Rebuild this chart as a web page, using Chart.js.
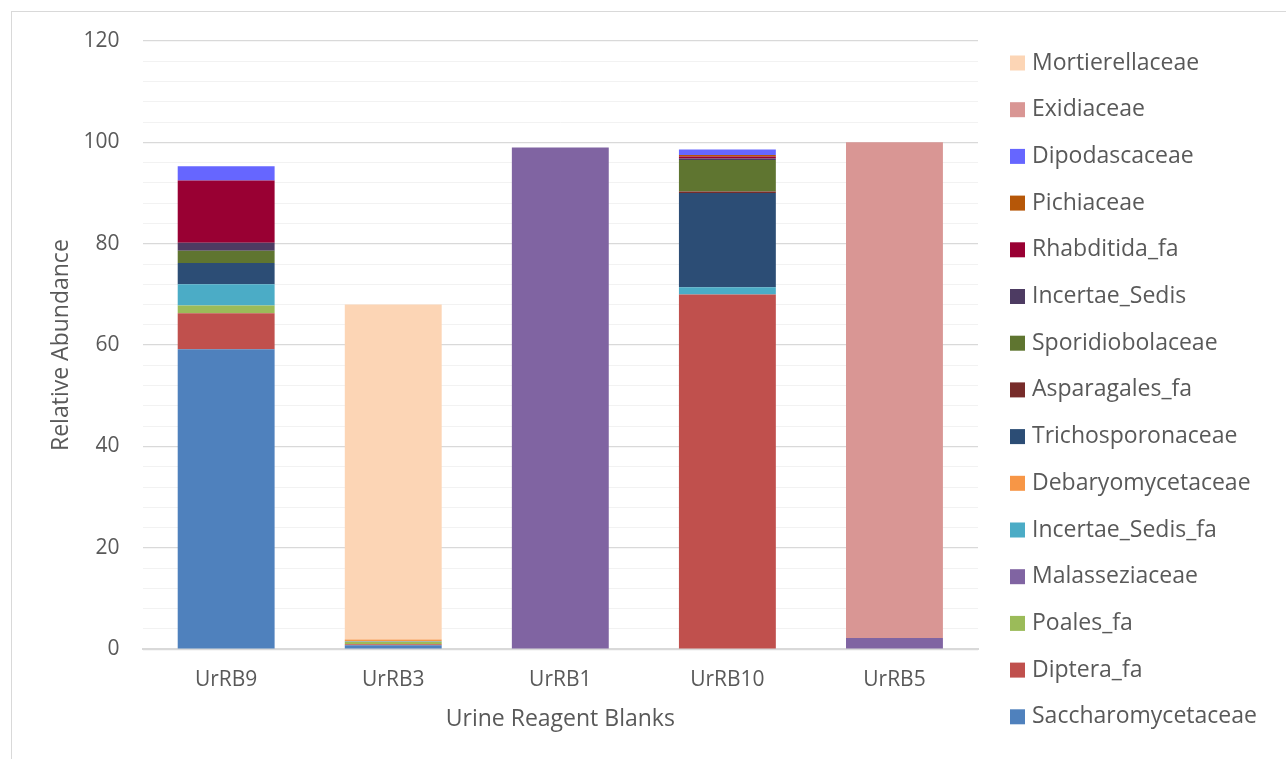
<!DOCTYPE html>
<html>
<head>
<meta charset="utf-8">
<script src="https://cdn.jsdelivr.net/npm/chart.js@4/dist/chart.umd.min.js"></script>
<style>
  html, body { margin: 0; padding: 0; background: #ffffff; overflow: hidden; }
  #frame { position: absolute; left: 11px; top: 11px; width: 1400px; height: 900px; border: 1px solid #d9d9d9; box-sizing: border-box; }
  #wrap { position: absolute; left: 0; top: 0; width: 1286px; height: 759px; }
</style>
</head>
<body>
<div id="frame"></div>
<div id="wrap"><canvas id="c" width="1286" height="759"></canvas></div>
<script>
const categories = ['UrRB9', 'UrRB3', 'UrRB1', 'UrRB10', 'UrRB5'];
const saccharomycetaceae = [59.2, 0.8, 0, 0, 0];
const dipteraFa          = [7.1, 0.2, 0, 70.0, 0];
const poalesFa           = [1.5, 0.4, 0, 0, 0];
const malasseziaceae     = [0, 0, 99.0, 0, 2.2];
const incertaeSedisFa    = [4.2, 0.1, 0, 1.4, 0];
const debaryomycetaceae  = [0, 0.4, 0, 0, 0];
const trichosporonaceae  = [4.2, 0, 0, 18.6, 0];
const asparagalesFa      = [0, 0, 0, 0.3, 0];
const sporidiobolaceae   = [2.4, 0, 0, 6.2, 0];
const incertaeSedis      = [1.6, 0, 0, 0.3, 0];
const rhabditidaFa       = [12.3, 0, 0, 0.4, 0];
const pichiaceae         = [0, 0, 0, 0.3, 0];
const dipodascaceae      = [2.8, 0, 0, 1.1, 0];
const exidiaceae         = [0, 0, 0, 0, 97.8];
const mortierellaceae    = [0, 66.1, 0, 0, 0];

const yTickLabels = [0, 20, 40, 60, 80, 100, 120];

const series = [
  ['Saccharomycetaceae', saccharomycetaceae, '#4F81BD'],
  ['Diptera_fa', dipteraFa, '#C0504D'],
  ['Poales_fa', poalesFa, '#9BBB59'],
  ['Malasseziaceae', malasseziaceae, '#8064A2'],
  ['Incertae_Sedis_fa', incertaeSedisFa, '#4BACC6'],
  ['Debaryomycetaceae', debaryomycetaceae, '#F79646'],
  ['Trichosporonaceae', trichosporonaceae, '#2C4D75'],
  ['Asparagales_fa', asparagalesFa, '#772C2A'],
  ['Sporidiobolaceae', sporidiobolaceae, '#5F7530'],
  ['Incertae_Sedis', incertaeSedis, '#4D3B62'],
  ['Rhabditida_fa', rhabditidaFa, '#990033'],
  ['Pichiaceae', pichiaceae, '#B65708'],
  ['Dipodascaceae', dipodascaceae, '#6666FF'],
  ['Exidiaceae', exidiaceae, '#D99694'],
  ['Mortierellaceae', mortierellaceae, '#FCD5B5']
];

const FONT = '"Open Sans", "Noto Sans", sans-serif';
const GRAY = '#595959';

// Legend drawn from the chart's own datasets (reversed order, like the reference)
const sideLegend = {
  id: 'sideLegend',
  afterDraw(chart) {
    const ctx = chart.ctx;
    const ds = chart.data.datasets.slice().reverse();
    const boxX = 1010, textX = 1032, firstY = 63, pitch = 46.7, box = 15;
    ctx.save();
    ctx.font = '23px ' + FONT;
    ctx.textBaseline = 'middle';
    ctx.textAlign = 'left';
    ds.forEach((d, i) => {
      const y = firstY + i * pitch;
      ctx.fillStyle = d.backgroundColor;
      ctx.fillRect(boxX, y - box / 2, box, box);
      ctx.fillStyle = GRAY;
      ctx.fillText(d.label, textX, y);
    });
    ctx.restore();
  }
};

new Chart(document.getElementById('c'), {
  type: 'bar',
  data: {
    labels: categories,
    datasets: series.map(([name, vals, color]) => ({
      label: name,
      data: vals,
      backgroundColor: color,
      borderWidth: 0,
      categoryPercentage: 1.0,
      barPercentage: 0.58
    }))
  },
  options: {
    responsive: false,
    animation: false,
    layout: { padding: { left: 30, top: 41, right: 308, bottom: 26 } },
    plugins: {
      tooltip: { enabled: false },
      legend: { display: false }
    },
    scales: {
      x: {
        stacked: true,
        grid: { display: false, drawTicks: false },
        border: { color: '#d9d9d9', width: 2 },
        ticks: { font: { family: FONT, size: 21 }, color: GRAY, padding: 18 },
        title: { display: true, text: 'Urine Reagent Blanks', font: { family: FONT, size: 23 }, color: GRAY, padding: { top: -5, bottom: 0 } }
      },
      y: {
        stacked: true,
        min: 0,
        max: 120,
        grid: {
          drawTicks: false,
          color: (ctx) => (ctx.tick && yTickLabels.includes(ctx.tick.value)) ? '#d9d9d9' : '#f2f2f2',
          lineWidth: (ctx) => (ctx.tick && yTickLabels.includes(ctx.tick.value)) ? 1.3 : 1
        },
        border: { display: false },
        ticks: {
          stepSize: 4,
          autoSkip: false,
          font: { family: FONT, size: 21 },
          color: GRAY,
          padding: 23,
          callback: (v) => yTickLabels.includes(v) ? String(v) : ''
        },
        title: { display: true, text: 'Relative Abundance', font: { family: FONT, size: 23 }, color: GRAY, padding: { top: 18, bottom: -15 } }
      }
    }
  },
  plugins: [sideLegend]
});
</script>
</body>
</html>
